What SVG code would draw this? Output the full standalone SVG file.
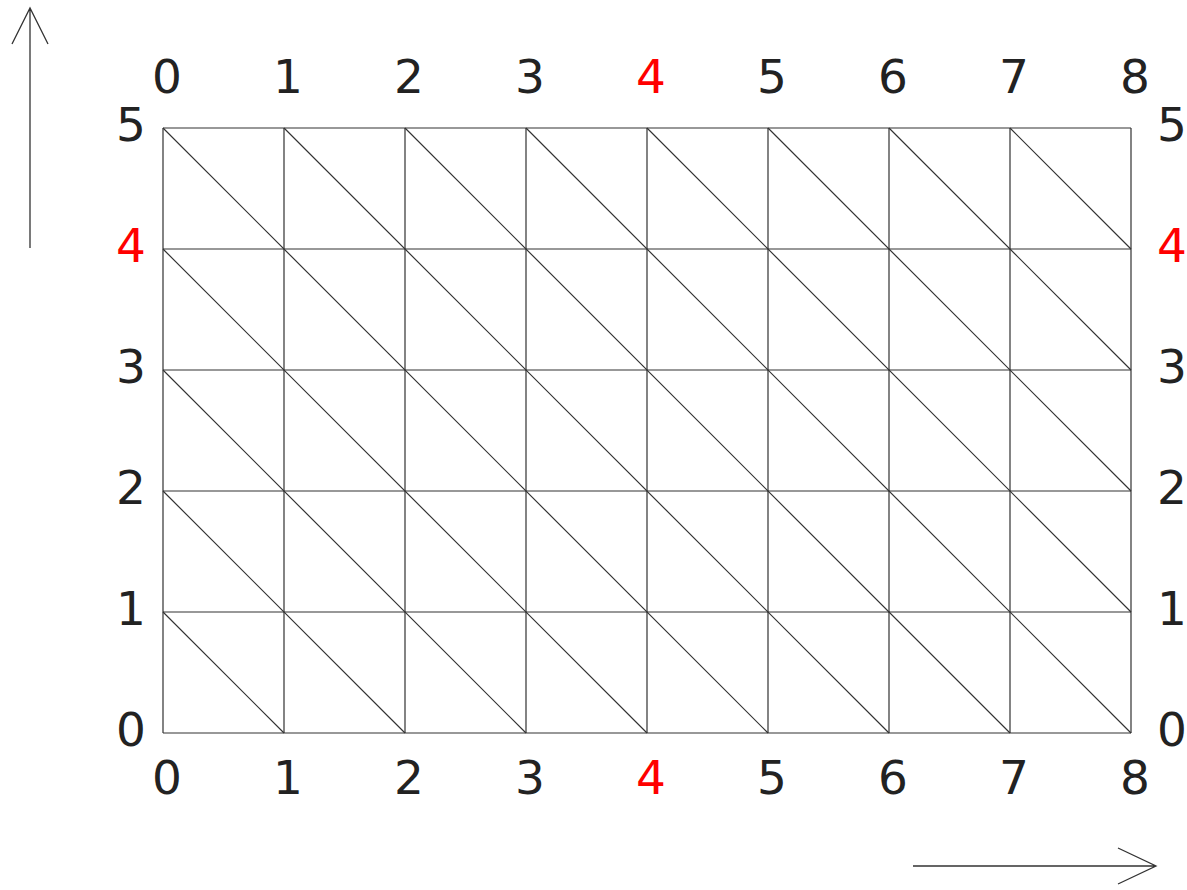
<svg xmlns="http://www.w3.org/2000/svg" width="1187" height="890" viewBox="0 0 1187 890">
<style>
.g{stroke:#333;stroke-width:1.2;fill:none}
.a{stroke:#333;stroke-width:1.3;fill:none}
text{font-family:"DejaVu Sans",sans-serif;font-size:47px;fill:#222;text-anchor:middle}
.r{fill:#ff0000}
</style>
<rect width="1187" height="890" fill="#fff"/>
<g id="grid" class="g">
<path d="M163 128V733M284 128V733M405 128V733M526 128V733M647 128V733M768 128V733M889 128V733M1010 128V733M1131 128V733"/>
<path d="M163 128H1131M163 249H1131M163 370H1131M163 491H1131M163 612H1131M163 733H1131"/>
<path d="M163 128L768 733M284 128L889 733M405 128L1010 733M526 128L1131 733M647 128L1131 612M768 128L1131 491M889 128L1131 370M1010 128L1131 249M163 249L647 733M163 370L526 733M163 491L405 733M163 612L284 733"/>
</g>
<g id="connectors" class="a">
<path d="M30 248V8M12 44L30 8L48 44"/>
<path d="M913 866H1156M1118 848L1156 866L1118 884"/>
</g>
<g id="top-labels">
<text x="167" y="93">0</text><text x="288" y="93">1</text><text x="409" y="93">2</text><text x="530" y="93">3</text><text x="651" y="93" class="r">4</text><text x="772" y="93">5</text><text x="893" y="93">6</text><text x="1014" y="93">7</text><text x="1135" y="93">8</text>
</g>
<g id="bottom-labels">
<text x="167" y="794">0</text><text x="288" y="794">1</text><text x="409" y="794">2</text><text x="530" y="794">3</text><text x="651" y="794" class="r">4</text><text x="772" y="794">5</text><text x="893" y="794">6</text><text x="1014" y="794">7</text><text x="1135" y="794">8</text>
</g>
<g id="left-labels">
<text x="131" y="141">5</text><text x="131" y="262" class="r">4</text><text x="131" y="383">3</text><text x="131" y="504">2</text><text x="131" y="625">1</text><text x="131" y="746">0</text>
</g>
<g id="right-labels">
<text x="1172" y="141">5</text><text x="1172" y="262" class="r">4</text><text x="1172" y="383">3</text><text x="1172" y="504">2</text><text x="1172" y="625">1</text><text x="1172" y="746">0</text>
</g>
</svg>
